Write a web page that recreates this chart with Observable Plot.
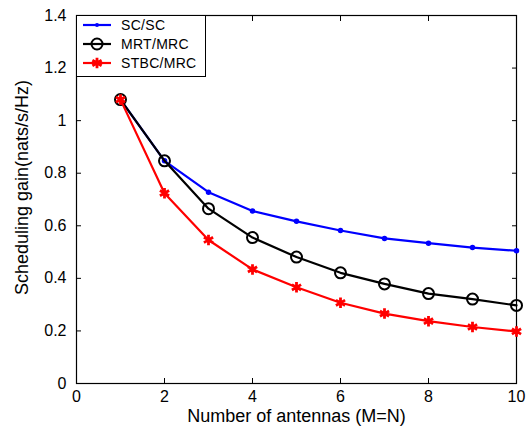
<!DOCTYPE html>
<html><head><meta charset="utf-8">
<script src="https://cdn.jsdelivr.net/npm/d3@7"></script>
<script src="https://cdn.jsdelivr.net/npm/@observablehq/plot@0.6"></script>
<style>
body{margin:0;background:#fff;}
#wrap{position:relative;width:529px;height:431px;font-family:Arial,"Liberation Sans",sans-serif;}
#legend{position:absolute;left:76px;top:15px;width:130px;height:62px;border:1px solid #000;background:#fff;box-sizing:border-box;}
</style></head><body><div id="wrap"><div id="legend"></div></div>
<script>
const antennas = [1,2,3,4,5,6,7,8,9,10];
const scsc    = [1.08,0.847,0.728,0.656,0.617,0.582,0.552,0.534,0.517,0.505];
const mrtmrc  = [1.08,0.847,0.665,0.555,0.481,0.421,0.379,0.342,0.321,0.297];
const stbcmrc = [1.08,0.724,0.546,0.434,0.366,0.307,0.266,0.237,0.215,0.198];
const seriesNames = ["SC/SC","MRT/MRC","STBC/MRC"];
const seriesColors = ["#0000ff","#000000","#ff0000"];
const xTicks = [0,2,4,6,8,10];
const yTicks = [0,0.2,0.4,0.6,0.8,1,1.2,1.4];
const xLabel = "Number of antennas (M=N)";
const yLabel = "Scheduling gain(nats/s/Hz)";

const seriesValues = [scsc, mrtmrc, stbcmrc];
const rows = seriesNames.map((name, i) => antennas.map((a, j) => ({series: name, x: a, y: seriesValues[i][j]})));
const [rowsSC, rowsMRT, rowsSTBC] = rows;

const font = "Arial, 'Liberation Sans', sans-serif";
const chart = Plot.plot({
  width: 529, height: 431,
  marginLeft: 76, marginRight: 13, marginTop: 15, marginBottom: 48,
  style: {fontFamily: font, fontSize: "16px", background: "#fff", overflow: "visible"},
  x: {domain: [0, 10]},
  y: {domain: [0, 1.4]},
  marks: [
    Plot.axisX({anchor: "bottom", ticks: xTicks, tickSize: -5, tickPadding: 12, label: null, fontSize: 16}),
    Plot.axisX({anchor: "top", ticks: xTicks, tickSize: -5, tickFormat: () => "", label: null}),
    Plot.axisY({anchor: "left", ticks: yTicks, tickSize: -5, tickPadding: 15, label: null, fontSize: 16, tickFormat: d => String(d)}),
    Plot.axisY({anchor: "right", ticks: yTicks, tickSize: -5, tickFormat: () => "", label: null}),
    Plot.frame({stroke: "#000", strokeWidth: 1.2}),
    Plot.line(rowsSC, {x: "x", y: "y", stroke: seriesColors[0], strokeWidth: 2.2}),
    Plot.dot(rowsSC, {x: "x", y: "y", r: 2, fill: seriesColors[0], stroke: seriesColors[0]}),
    Plot.line(rowsMRT, {x: "x", y: "y", stroke: seriesColors[1], strokeWidth: 2.2}),
    Plot.dot(rowsMRT, {x: "x", y: "y", r: 5.5, stroke: seriesColors[1], strokeWidth: 2, fill: "none"}),
    Plot.line(rowsSTBC, {x: "x", y: "y", stroke: seriesColors[2], strokeWidth: 2.2}),
    Plot.dot(rowsSTBC, {x: "x", y: "y", r: 5, symbol: "asterisk", stroke: seriesColors[2], strokeWidth: 2.8}),
    Plot.text([xLabel], {text: d => d, frameAnchor: "bottom", textAnchor: "middle", dy: 38, fontSize: 18, fill: "#000", letterSpacing: "0.85px"}),
    Plot.text([yLabel], {text: d => d, frameAnchor: "left", textAnchor: "middle", dx: -54, dy: -12, rotate: -90, fontSize: 18, fill: "#000", letterSpacing: "0.85px"})
  ]
});
document.getElementById("wrap").prepend(chart);

// legend
const lg = d3.select("#legend").append("svg").attr("width", 128).attr("height", 60)
  .style("position", "absolute").style("left", "0px").style("top", "0px");
const symbols = ["dot", "circle", "star"];
seriesNames.forEach((name, i) => {
  const yy = 9 + i * 19;
  const g = lg.append("g").attr("transform", `translate(0,${yy})`);
  g.append("line").attr("x1", 6).attr("x2", 34).attr("stroke", seriesColors[i]).attr("stroke-width", 2.2);
  if (symbols[i] === "dot") g.append("circle").attr("cx", 20).attr("r", 2).attr("fill", seriesColors[i]);
  if (symbols[i] === "circle") g.append("circle").attr("cx", 20).attr("r", 5.5).attr("fill", "none").attr("stroke", seriesColors[i]).attr("stroke-width", 2);
  if (symbols[i] === "star") g.append("path").attr("transform", "translate(20,0)").attr("d", d3.symbol(d3.symbolAsterisk, 80)()).attr("stroke", seriesColors[i]).attr("stroke-width", 2.8);
  g.append("text").attr("x", 44).attr("y", 0).attr("dy", "0.35em").attr("font-family", font).attr("font-size", 14).attr("letter-spacing", "0.3px").text(name);
});
</script></body></html>
